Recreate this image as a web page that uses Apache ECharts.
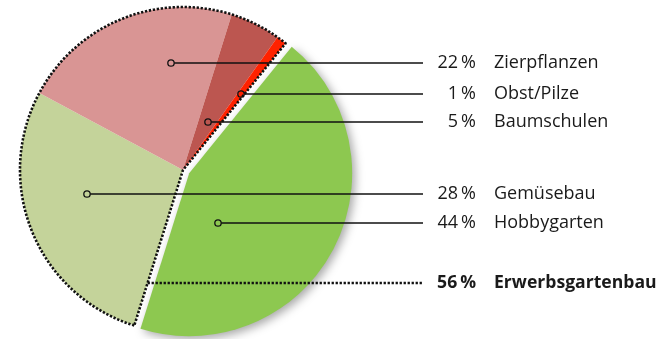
<!DOCTYPE html>
<html><head><meta charset="utf-8">
<script src="https://cdn.jsdelivr.net/npm/echarts@6/dist/echarts.min.js"></script>
<style>html,body{margin:0;padding:0;background:#fff}#c{width:662px;height:339px}</style>
</head><body><div id="c"></div>
<script>
// ---- data ----
const categories = ['Hobbygarten', 'Gemüsebau', 'Zierpflanzen', 'Baumschulen', 'Obst/Pilze'];
const values = [44, 28, 22, 5, 1];
const groupName = 'Erwerbsgartenbau';
const groupMembers = [1, 2, 3, 4];
const colors = ['#8dc850', '#c4d39a', '#d99594', '#bc5650', '#ff2200'];

// ---- layout ----
const CX = 183, CY = 170, R = 163, START = 51;
const labelRowY = [223, 194, 63, 122, 94];
const anchorX = [218, 87, 171, 208, 241];
const groupRowY = 283;
const lineEndX = 423, pctRightX = 476, nameX = 494;
const FS = 18, FS_BOLD = 17.6;
const DOT = [2.3, 1.7];

const groupValue = groupMembers.reduce((s, i) => s + values[i], 0);
const total = values.reduce((a, b) => a + b, 0);

const chart = echarts.init(document.getElementById('c'), null, {renderer: 'canvas'});

// point on the trailing edge of the group at the group row
const groupStartMath = (START - values[0] / total * 360) * Math.PI / 180;
const groupAnchorX = CX + (groupRowY - CY) / (-Math.sin(groupStartMath)) * Math.cos(groupStartMath);

const pieData = categories.map((c, i) => ({
  name: c,
  value: values[i],
  selected: i === 0,
  itemStyle: i === 0 ? {
    color: colors[i], shadowBlur: 10, shadowColor: 'rgba(0,0,0,0.35)', shadowOffsetX: 3, shadowOffsetY: 3
  } : {color: colors[i]},
  select: {itemStyle: {color: colors[i]}}
}));

function txt(x, y, s, align, bold) {
  return {
    type: 'text', z: 100, silent: true, x: x, y: y,
    style: {
      text: s, fill: '#1a1a1a', fontFamily: 'Open Sans', fontSize: bold ? FS_BOLD : FS,
      fontWeight: bold ? 'bold' : 'normal',
      align: align, verticalAlign: 'middle'
    }
  };
}

const graphics = [];
categories.forEach((c, i) => {
  const y = labelRowY[i];
  graphics.push({
    type: 'line', z: 100, silent: true,
    shape: {x1: anchorX[i] + 3.2, y1: y, x2: lineEndX, y2: y},
    style: {stroke: '#111', lineWidth: 1.3}
  });
  graphics.push({
    type: 'circle', z: 100, silent: true,
    shape: {cx: anchorX[i], cy: y, r: 3.2},
    style: {fill: 'none', stroke: '#111', lineWidth: 1.3}
  });
  graphics.push(txt(pctRightX, y, values[i] + '\u2009%', 'right', false));
  graphics.push(txt(nameX, y, c, 'left', false));
});
graphics.push({
  type: 'line', z: 100, silent: true,
  shape: {x1: groupAnchorX, y1: groupRowY, x2: lineEndX, y2: groupRowY},
  style: {stroke: '#111', lineWidth: 2.5, lineDash: DOT}
});
graphics.push(txt(pctRightX, groupRowY, groupValue + '\u2009%', 'right', true));
graphics.push(txt(nameX, groupRowY, groupName, 'left', true));

const option = {
  animation: false,
  backgroundColor: '#ffffff',
  series: [
    {
      type: 'pie',
      center: [CX, CY],
      radius: R,
      startAngle: START,
      clockwise: true,
      selectedMode: 'single',
      selectedOffset: 7,
      silent: true,
      itemStyle: {borderWidth: 0},
      data: pieData,
      label: {show: false},
      labelLine: {show: false}
    },
    {
      type: 'pie',
      center: [CX, CY],
      radius: R,
      startAngle: START,
      clockwise: true,
      silent: true,
      z: 5,
      data: [
        {name: categories[0], value: values[0], itemStyle: {color: 'transparent', borderWidth: 0}},
        {name: groupName, value: groupValue,
         itemStyle: {color: 'transparent', borderColor: '#111', borderWidth: 2.6, borderType: DOT}}
      ],
      label: {show: false},
      labelLine: {show: false}
    }
  ],
  graphic: graphics
};
chart.setOption(option);
</script>
</body></html>
